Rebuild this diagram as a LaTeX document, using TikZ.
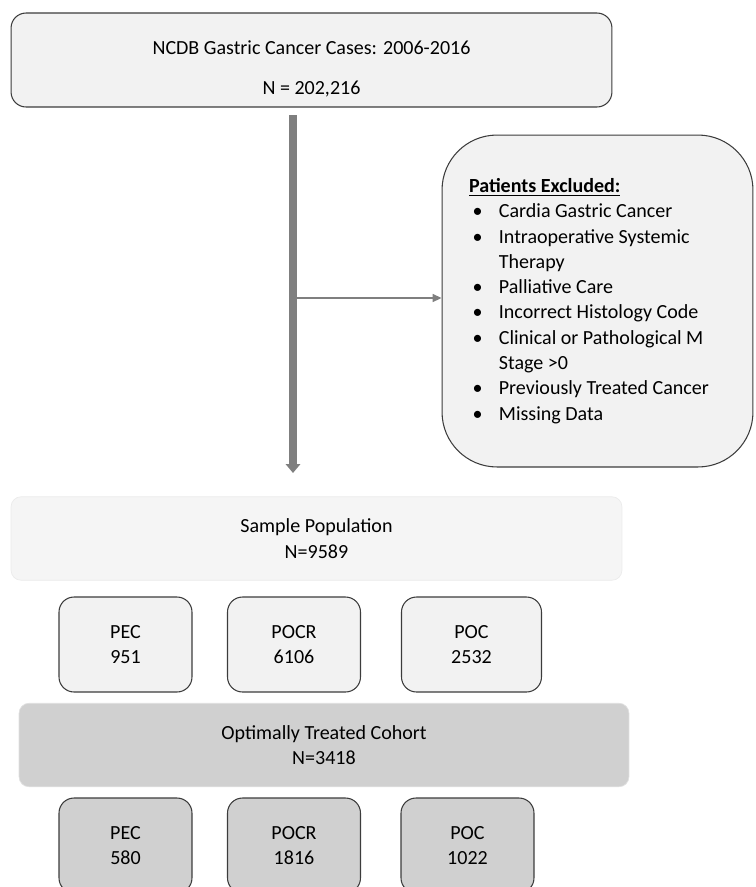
\documentclass[tikz,border=0pt]{standalone}
\usepackage{fontspec}
\setmainfont{Carlito}
\usetikzlibrary{arrows.meta}
\definecolor{boxfill}{HTML}{F2F2F2}
\definecolor{samplefill}{HTML}{F5F5F5}
\definecolor{cohortfill}{HTML}{D0D0D0}
\definecolor{edgegray}{HTML}{3C3C3C}
\definecolor{arrowgray}{HTML}{7F7F7F}
\newcommand{\bul}{\makebox[17pt][l]{\hspace{2pt}\textbullet}}
\newcommand{\nobul}{\hspace{17pt}}
\begin{document}
\begin{tikzpicture}[x=0.02cm,y=-0.02cm,
    txt/.style={font=\fontsize{11.4}{14.4}\selectfont,align=center,inner sep=0pt},
    main box/.style={txt,draw=edgegray,line width=0.6pt,rounded corners=0.3cm},
    light box/.style={main box,fill=boxfill},
    gray box/.style={main box,fill=cohortfill},
    wide box/.style={txt,rounded corners=0.2cm,minimum height=1.67cm},
    group box/.style={minimum width=2.66cm,minimum height=1.9cm}]
    \useasboundingbox (0,0) rectangle (755,887);

    \node[light box,minimum width=12.02cm,minimum height=1.88cm] at (311.5,60) (cases)
        {\rule{0pt}{18pt}NCDB Gastric Cancer Cases: 2006-2016\\[8pt]N = 202,216};
    \node[light box,rounded corners=1.1cm,minimum width=6.22cm,minimum height=6.64cm,
        text width=5.14cm,align=left,inner xsep=0.54cm] at (597.5,301) (excl)
        {\spaceskip=0pt\xspaceskip=0pt
         \textbf{\underline{Patients Excluded:}}\\
         \bul Cardia Gastric Cancer\\
         \bul Intraoperative Systemic\\
         \nobul Therapy\\
         \bul Palliative Care\\
         \bul Incorrect Histology Code\\
         \bul Clinical or Pathological M\\
         \nobul Stage >0\\
         \bul Previously Treated Cancer\\
         \bul Missing Data};

    \node[wide box,fill=samplefill,draw=black!8,minimum width=12.22cm] at (316.5,538.5) (sample)
        {Sample Population\\N=9589};
    \node[light box,group box] at (125.5,644.5) (pec) {PEC\\951};
    \node[light box,group box] at (294,644.5) (pocr) {POCR\\6106};
    \node[light box,group box,minimum width=2.8cm] at (471.5,644.5) (poc) {POC\\2532};

    \node[wide box,fill=cohortfill,draw=black!12,minimum width=12.2cm] at (324,745) (cohort)
        {Optimally Treated Cohort\\N=3418};
    \node[gray box,group box] at (125.5,845.5) (pecopt) {PEC\\580};
    \node[gray box,group box] at (294,845.5) (pocropt) {POCR\\1816};
    \node[gray box,group box] at (467.5,845.5) (pocopt) {POC\\1022};

    % flow arrows
    \coordinate (split) at (293,298);
    \coordinate (flowend) at (293,473);
    \draw[arrowgray,line width=4pt,shorten <=4.5pt,-{Triangle[width=8pt,length=5pt]}]
        (cases.south -| split) -- (flowend);
    \draw[arrowgray,line width=0.9pt,-{Triangle[width=4.5pt,length=5pt]}]
        (split) -- (split -| excl.west);
\end{tikzpicture}
\end{document}
